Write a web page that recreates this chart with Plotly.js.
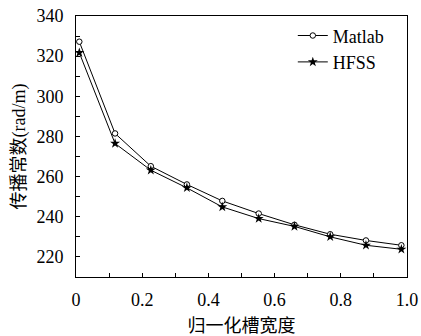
<!DOCTYPE html>
<html>
<head>
<meta charset="utf-8">
<script src="https://cdn.plot.ly/plotly-3.0.1.min.js"></script>
<style>html,body{margin:0;padding:0;background:#fff;}#chart{width:421px;height:336px;}</style>
</head>
<body>
<div id="chart"></div>
<script>
const slotWidth = [0.01, 0.118, 0.226, 0.335, 0.442, 0.552, 0.66, 0.768, 0.876, 0.983];
const matlab = [327.2, 281.5, 265.2, 256.1, 247.9, 241.6, 236.0, 231.3, 228.2, 225.8];
const hfss   = [321.7, 276.5, 263.2, 254.4, 244.9, 239.1, 235.2, 230.0, 225.8, 223.8];
const xTickVals = [0, 0.2, 0.4, 0.6, 0.8, 1.0];
const xTickText = ['0', '0.2', '0.4', '0.6', '0.8', '1.0'];
const yTickVals = [220, 240, 260, 280, 300, 320, 340];
const yTickText = ['220', '240', '260', '280', '300', '320', '340'];

const serif = '"Liberation Serif", "Noto Sans CJK SC", serif';

const traces = [
  {x: slotWidth, y: matlab, name: 'Matlab', mode: 'lines+markers',
   line: {color: '#000', width: 1},
   marker: {symbol: 'circle', size: 5.5, color: '#fff', line: {width: 1, color: '#000'}}},
  {x: slotWidth, y: hfss, name: 'HFSS', mode: 'lines+markers',
   line: {color: '#000', width: 1},
   marker: {symbol: 'star', size: 7.5, color: '#000', line: {width: 0}}}
];

const layout = {
  width: 421, height: 336,
  margin: {l: 76, r: 14, t: 16, b: 59},
  paper_bgcolor: '#fff', plot_bgcolor: '#fff',
  font: {family: serif, color: '#000', size: 18},
  showlegend: true,
  legend: {x: 0.655, y: 0.995, xanchor: 'left', yanchor: 'top',
           bgcolor: 'rgba(0,0,0,0)', itemsizing: 'trace',
           font: {family: serif, size: 18, color: '#000'}},
  xaxis: {range: [0, 1], tickvals: xTickVals, ticktext: xTickText,
          tickfont: {family: serif, size: 18, color: '#000'},
          ticks: 'inside', ticklen: 4, tickcolor: '#000', tickwidth: 1,
          minor: {dtick: 0.1, ticks: 'inside', ticklen: 4, tickcolor: '#000'},
          showline: true, linecolor: '#000', linewidth: 1, mirror: true,
          showgrid: false, zeroline: false, ticklabelstandoff: 6,
          title: {text: '归一化槽宽度', font: {family: serif, size: 18, color: '#000'}, standoff: 10}},
  yaxis: {range: [210, 340], tickvals: yTickVals, ticktext: yTickText,
          tickfont: {family: serif, size: 18, color: '#000'},
          ticks: 'inside', ticklen: 4, tickcolor: '#000', tickwidth: 1,
          minor: {dtick: 10, ticks: 'inside', ticklen: 4, tickcolor: '#000'},
          showline: true, linecolor: '#000', linewidth: 1, mirror: true,
          showgrid: false, zeroline: false, ticklabelstandoff: 8,
          title: {text: '传播常数(rad/m)', font: {family: serif, size: 18, color: '#000'}, standoff: 6}}
};

Plotly.newPlot('chart', traces, layout, {displayModeBar: false, staticPlot: true});
</script>
</body>
</html>
